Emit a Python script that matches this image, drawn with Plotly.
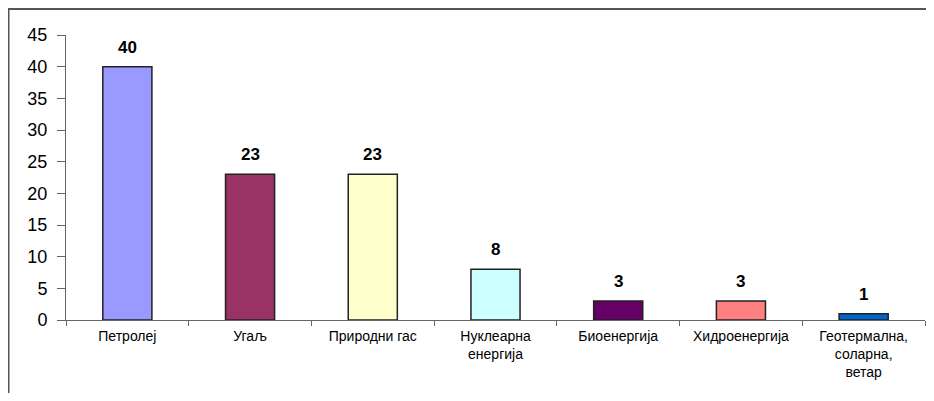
import plotly.graph_objects as go

categories = ["Петролеј", "Угаљ", "Природни гас", "Нуклеарна<br>енергија",
              "Биоенергија", "Хидроенергија", "Геотермална,<br>соларна,<br>ветар"]
values = [40, 23, 23, 8, 3, 3, 1]
colors = ["#9999FF", "#993366", "#FFFFCC", "#CCFFFF", "#660066", "#FF8080", "#0066CC"]
y_ticks = [0, 5, 10, 15, 20, 25, 30, 35, 40, 45]

FONT = "Liberation Sans, Arial"

fig = go.Figure(go.Bar(
    x=categories, y=values,
    marker=dict(color=colors, line=dict(color="#222222", width=1.5)),
    width=0.4,
    cliponaxis=False,
))

for c, v in zip(categories, values):
    fig.add_annotation(
        x=c, y=v, text=f"<b>{v}</b>", showarrow=False,
        yanchor="bottom", yshift=8,
        font=dict(family=FONT, size=17, color="black"),
    )

# page offset of 8px (body margin)
OFF = 8
W, H = 934 - OFF, 401 - 2 * OFF
l, r, t = 66 - OFF, 934 - 925, 35 - OFF
b = H - (320 - OFF)
pw, ph = W - l - r, H - t - b

def px_x(p):
    return (p - OFF - l) / pw

def px_y(p):
    return (H - b - (p - OFF)) / ph

fig.update_layout(
    width=W, height=H,
    margin=dict(l=l, r=r, t=t, b=b, autoexpand=False),
    paper_bgcolor="white", plot_bgcolor="white",
    showlegend=False,
    font=dict(family=FONT, color="black"),
    xaxis=dict(
        type="category", showline=True, linecolor="#666666", linewidth=1,
        ticks="outside", tickson="boundaries", ticklen=5, tickcolor="#666666",
        tickfont=dict(size=14), showgrid=False, ticklabelstandoff=3,
    ),
    yaxis=dict(
        range=[0, 45], tickvals=y_ticks, showline=True, linecolor="#666666",
        linewidth=1, ticks="outside", ticklen=8, tickcolor="#666666",
        tickfont=dict(size=18), showgrid=False, zeroline=False,
        ticklabelstandoff=6,
    ),
    shapes=[dict(
        type="rect", xref="paper", yref="paper",
        x0=px_x(8.5), x1=px_x(932), y0=px_y(420), y1=px_y(9),
        line=dict(color="#555555", width=2), fillcolor="rgba(0,0,0,0)",
    )],
)

fig.write_html("out.html")
